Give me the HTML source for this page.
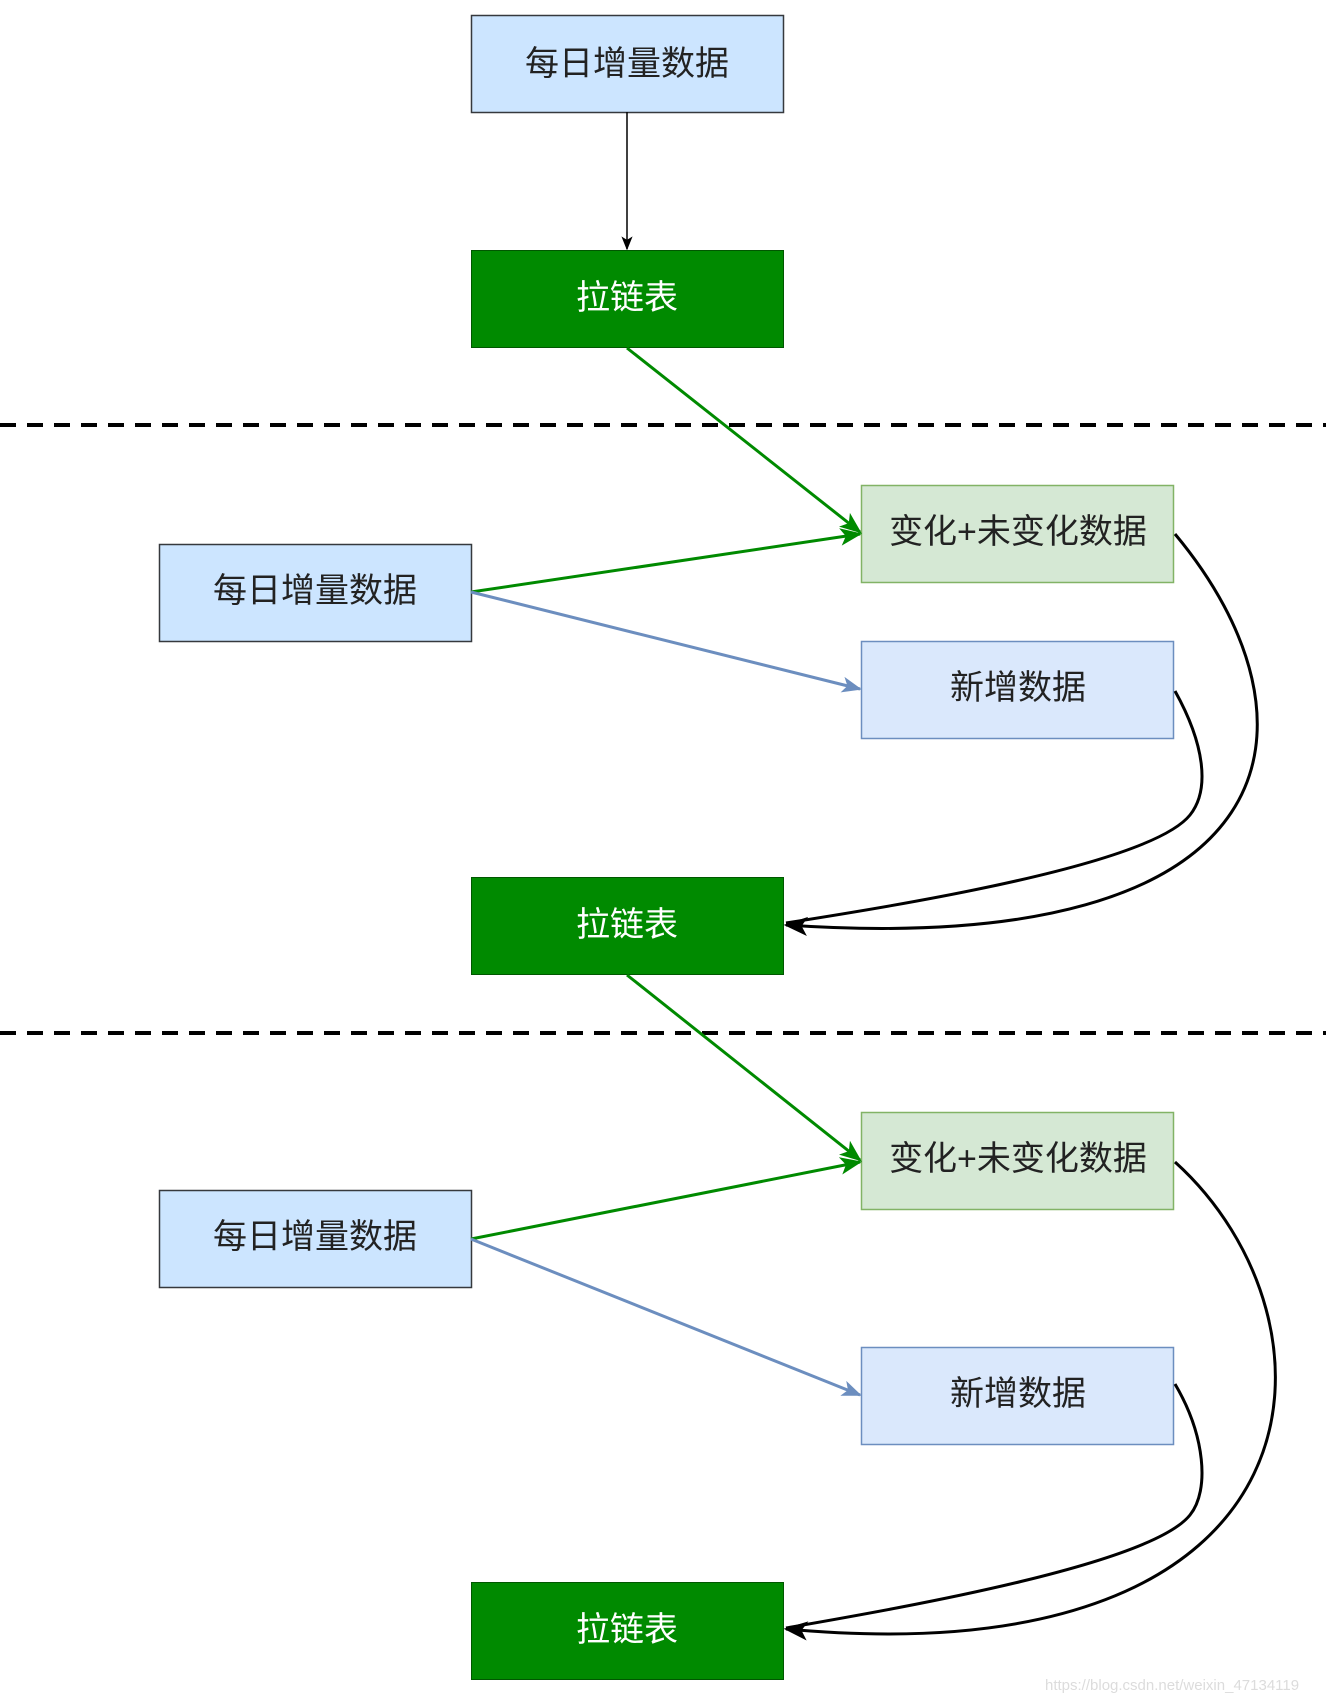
<!DOCTYPE html>
<html><head><meta charset="utf-8"><style>
html,body{margin:0;padding:0;background:#fff;}
svg{display:block;}
text{font-family:"Liberation Sans","Noto Sans CJK SC",sans-serif;font-size:34px;}
</style></head><body>
<svg width="1326" height="1697" viewBox="0 0 1326 1697" xmlns="http://www.w3.org/2000/svg">
<defs>
<marker id="ak" viewBox="0 0 20 20" refX="18" refY="10" markerWidth="14" markerHeight="14" markerUnits="userSpaceOnUse" orient="auto"><path d="M0,2 L20,10 L0,18 L5,10 Z" fill="#000"/></marker>
<marker id="ag" viewBox="0 0 20 20" refX="18" refY="10" markerWidth="22" markerHeight="22" markerUnits="userSpaceOnUse" orient="auto"><path d="M0,2 L20,10 L0,18 L5,10 Z" fill="#008a00"/></marker>
<marker id="ab" viewBox="0 0 20 20" refX="18" refY="10" markerWidth="20" markerHeight="20" markerUnits="userSpaceOnUse" orient="auto"><path d="M0,2 L20,10 L0,18 L5,10 Z" fill="#6c8ebf"/></marker>
<marker id="abk" viewBox="0 0 20 20" refX="18" refY="10" markerWidth="24" markerHeight="24" markerUnits="userSpaceOnUse" orient="auto"><path d="M0,2 L20,10 L0,18 L5,10 Z" fill="#000"/></marker>
</defs>

<!-- dashed lines -->
<line x1="0" y1="425" x2="1326" y2="425" stroke="#000" stroke-width="4" stroke-dasharray="16,11"/>
<line x1="0" y1="1033" x2="1326" y2="1033" stroke="#000" stroke-width="4" stroke-dasharray="16,11"/>

<!-- top -->
<rect x="471.5" y="15.5" width="312" height="97" fill="#cce5ff" stroke="#36393d" stroke-width="1.5"/>
<text x="627" y="64" text-anchor="middle" dominant-baseline="central" fill="#222">每日增量数据</text>
<line x1="627" y1="112" x2="627" y2="249" stroke="#000" stroke-width="1.5" marker-end="url(#ak)"/>
<rect x="471.5" y="250.5" width="312" height="97" fill="#008a00" stroke="#005700" stroke-width="1"/>
<text x="627" y="298" text-anchor="middle" dominant-baseline="central" fill="#fff">拉链表</text>

<!-- section 1 -->
<rect x="861.5" y="485.5" width="312" height="97" fill="#d5e8d4" stroke="#82b366" stroke-width="1.5"/>
<text x="1018" y="532" text-anchor="middle" dominant-baseline="central" fill="#222">变化+未变化数据</text>
<rect x="159.5" y="544.5" width="312" height="97" fill="#cce5ff" stroke="#36393d" stroke-width="1.5"/>
<text x="315" y="591" text-anchor="middle" dominant-baseline="central" fill="#222">每日增量数据</text>
<rect x="861.5" y="641.5" width="312" height="97" fill="#dae8fc" stroke="#6c8ebf" stroke-width="1.5"/>
<text x="1018" y="688" text-anchor="middle" dominant-baseline="central" fill="#222">新增数据</text>

<line x1="627" y1="348" x2="860" y2="532" stroke="#008a00" stroke-width="3" marker-end="url(#ag)"/>
<line x1="471" y1="592" x2="860" y2="534" stroke="#008a00" stroke-width="3" marker-end="url(#ag)"/>
<line x1="471" y1="592" x2="860" y2="689" stroke="#6c8ebf" stroke-width="3" marker-end="url(#ab)"/>
<path d="M1175,534 C1330,720 1300,960 786,925" fill="none" stroke="#000" stroke-width="3" marker-end="url(#abk)"/>
<path d="M1175,691 C1205,745 1210,790 1190,815 C1150,865 900,905 786,923" fill="none" stroke="#000" stroke-width="3"/>

<rect x="471.5" y="877.5" width="312" height="97" fill="#008a00" stroke="#005700" stroke-width="1"/>
<text x="627" y="925" text-anchor="middle" dominant-baseline="central" fill="#fff">拉链表</text>

<!-- section 2 -->
<rect x="861.5" y="1112.5" width="312" height="97" fill="#d5e8d4" stroke="#82b366" stroke-width="1.5"/>
<text x="1018" y="1159" text-anchor="middle" dominant-baseline="central" fill="#222">变化+未变化数据</text>
<rect x="159.5" y="1190.5" width="312" height="97" fill="#cce5ff" stroke="#36393d" stroke-width="1.5"/>
<text x="315" y="1237" text-anchor="middle" dominant-baseline="central" fill="#222">每日增量数据</text>
<rect x="861.5" y="1347.5" width="312" height="97" fill="#dae8fc" stroke="#6c8ebf" stroke-width="1.5"/>
<text x="1018" y="1394" text-anchor="middle" dominant-baseline="central" fill="#222">新增数据</text>

<line x1="627" y1="975" x2="860" y2="1160" stroke="#008a00" stroke-width="3" marker-end="url(#ag)"/>
<line x1="471" y1="1239" x2="860" y2="1162" stroke="#008a00" stroke-width="3" marker-end="url(#ag)"/>
<line x1="471" y1="1239" x2="860" y2="1395" stroke="#6c8ebf" stroke-width="3" marker-end="url(#ab)"/>
<path d="M1175,1162 C1350,1320 1340,1680 786,1629" fill="none" stroke="#000" stroke-width="3" marker-end="url(#abk)"/>
<path d="M1175,1384 C1205,1435 1210,1490 1190,1515 C1150,1565 900,1608 786,1628" fill="none" stroke="#000" stroke-width="3"/>

<rect x="471.5" y="1582.5" width="312" height="97" fill="#008a00" stroke="#005700" stroke-width="1"/>
<text x="627" y="1630" text-anchor="middle" dominant-baseline="central" fill="#fff">拉链表</text>

<text x="1045" y="1690" style="font-size:15px" fill="#dcdcdc">https://blog.csdn.net/weixin_47134119</text>
</svg>
</body></html>
